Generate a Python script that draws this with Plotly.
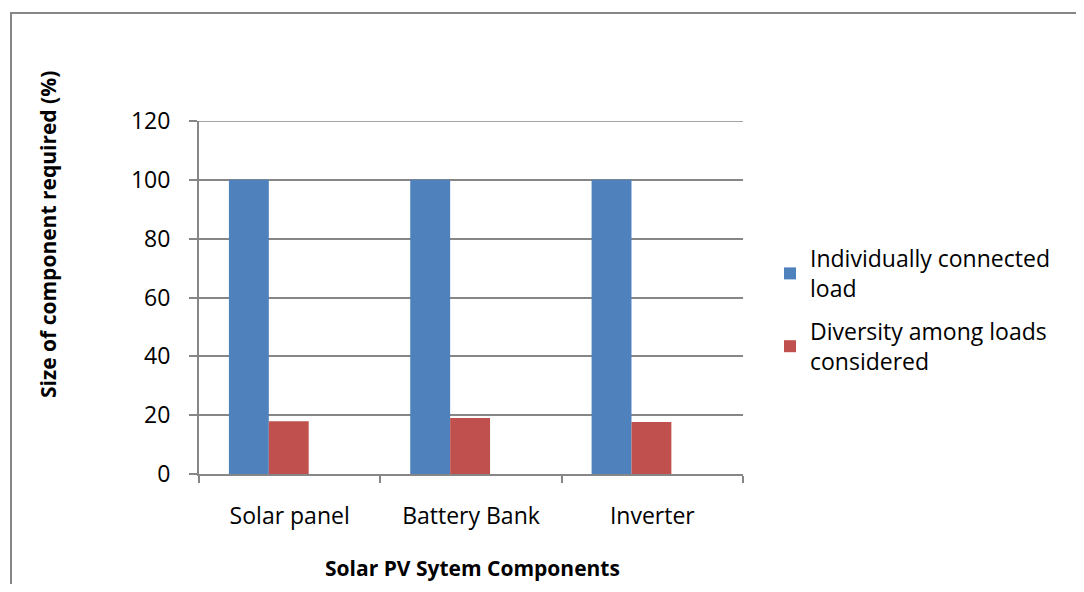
import plotly.graph_objects as go

categories = ["Solar panel", "Battery Bank", "Inverter"]
individual = [100, 100, 100]
diversity = [17.9, 19.0, 17.7]
y_ticks = [0, 20, 40, 60, 80, 100, 120]

FONT = "Open Sans"
GRID = "#868686"
BAR_W = 0.22

W, H = 1068, 576
PL, PR, PT, PB = 199, 743, 121, 474  # plot area in page pixels (body margin 8)
pw, ph = PR - PL, PB - PT


def px(x):
    return (x - PL) / pw


def py(y):
    return (PB - y) / ph


fig = go.Figure()
fig.add_trace(go.Bar(x=categories, y=individual, name="Individually connected<br>load",
                     width=BAR_W, offset=-0.335, legendgroup="a",
                     marker=dict(color="#4F81BD", line=dict(width=0))))
fig.add_trace(go.Bar(x=categories, y=diversity, name="Diversity among loads<br>considered",
                     width=BAR_W, offset=-0.115, legendgroup="b",
                     marker=dict(color="#C0504D", line=dict(width=0))))

fig.update_layout(
    width=W, height=H,
    margin=dict(l=PL - 8, r=8 + W - PR, t=PT - 8, b=8 + H - PB, autoexpand=False),
    paper_bgcolor="white", plot_bgcolor="white",
    barmode="overlay",
    font=dict(family=FONT, size=23, color="black"),
    showlegend=True,
    legend=dict(x=px(770), y=py(237), xanchor="left", yanchor="top",
                font=dict(family=FONT, size=23, color="black"),
                traceorder="grouped", tracegroupgap=10, itemwidth=30),
    xaxis=dict(showline=True, linecolor=GRID, linewidth=2, ticks="outside",
               tickson="boundaries", ticklen=7, tickcolor=GRID, tickwidth=2,
               ticklabelstandoff=20,
               tickfont=dict(family=FONT, size=23), showgrid=False),
    yaxis=dict(range=[0, 120], tickvals=y_ticks, showline=True, linecolor=GRID,
               linewidth=2, ticks="outside", ticklen=8, tickcolor=GRID, tickwidth=2,
               ticklabelstandoff=14,
               showgrid=True, gridcolor=GRID, gridwidth=1.5,
               tickfont=dict(family=FONT, size=23), zeroline=False),
    shapes=[
        dict(type="rect", xref="paper", yref="paper",
             x0=px(11), x1=3, y0=-2, y1=py(13),
             line=dict(color=GRID, width=2), layer="below"),
        dict(type="line", xref="paper", yref="y", x0=0, x1=1, y0=120, y1=120,
             line=dict(color=GRID, width=1.5), layer="below"),
    ],
    annotations=[
        dict(text="<b>Size of component required (%)</b>", xref="paper", yref="paper",
             x=px(48), y=py(235), textangle=-90, showarrow=False,
             font=dict(family=FONT, size=21), xanchor="center", yanchor="middle"),
        dict(text="<b>Solar PV Sytem Components</b>", xref="paper", yref="paper",
             x=px(472), y=py(568), showarrow=False,
             font=dict(family=FONT, size=21), xanchor="center", yanchor="middle"),
    ],
)

fig.write_html("out.html")
